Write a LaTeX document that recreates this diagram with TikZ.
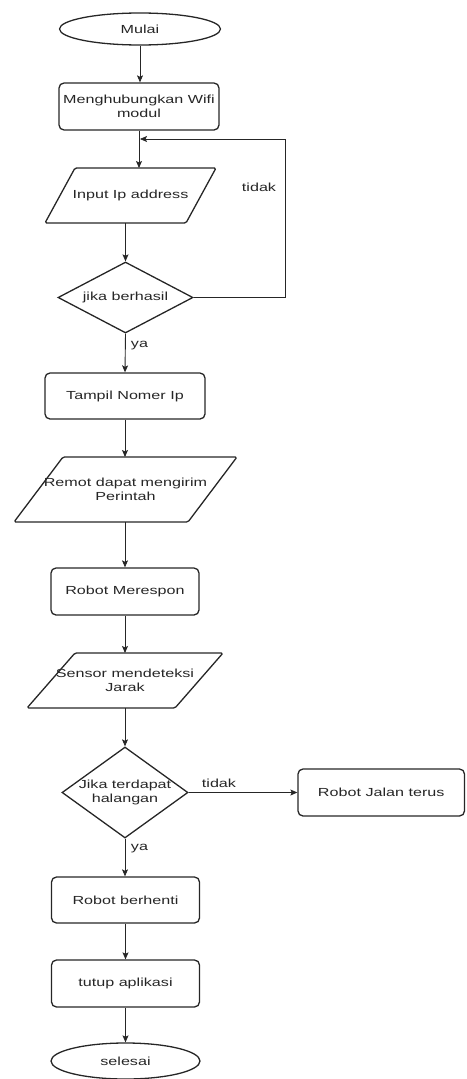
\documentclass[tikz,border=0pt]{standalone}
\usepackage{fontspec}
\setmainfont[FakeStretch=1.38]{Liberation Sans}
\usetikzlibrary{shapes.geometric,arrows.meta}
\begin{document}
\begin{tikzpicture}[x=1pt,y=-1pt,
  font=\fontsize{11.7}{14}\selectfont,
  every node/.style={text=black!85},
  box/.style={draw=black!85, rounded corners=5pt, line width=1.3pt, align=center, inner sep=0pt},
  term/.style={draw=black!85, ellipse, line width=1.3pt, inner sep=0pt},
  iobox/.style={rectangle, align=center, inner sep=0pt, outer sep=0pt},
  ioline/.style={draw=black!85, line width=1.3pt, rounded corners=1.5pt, line join=round},
  dec/.style={draw=black!85, diamond, line width=1.3pt, inner sep=0pt},
  arr/.style={draw=black!85, line width=0.9pt, -{Stealth[length=7pt,width=6pt,inset=1.5pt]}},
  lbl/.style={inner sep=0pt}
]
\useasboundingbox (0,0) rectangle (466,1079);

\node[term, minimum width=161pt, minimum height=32pt] (start) at (140,29) {Mulai};
\node[box, minimum width=160pt, minimum height=47pt] (wifi) at (139,106.5) {Menghubungkan Wifi\\modul};
\node[iobox, minimum width=171pt, minimum height=55pt] (ip) at (130.5,195.5) {Input Ip address};
\draw[ioline] ([xshift=30pt]ip.north west) -- (ip.north east) -- ([xshift=-30pt]ip.south east) -- (ip.south west) -- cycle;
\node[dec, minimum width=135pt, minimum height=71pt, label={[align=center]center:jika berhasil}] (d1) at (125.5,297.5) {};
\node[box, minimum width=160pt, minimum height=46pt] (tampil) at (125,396) {Tampil Nomer Ip};
\node[iobox, minimum width=223pt, minimum height=65pt] (remot) at (125.5,489.5) {Remot dapat mengirim\\Perintah};
\draw[ioline] ([xshift=49pt]remot.north west) -- (remot.north east) -- ([xshift=-49pt]remot.south east) -- (remot.south west) -- cycle;
\node[box, minimum width=148pt, minimum height=47pt] (resp) at (125,591.5) {Robot Merespon};
\node[iobox, minimum width=196pt, minimum height=55pt] (sensor) at (125,680.5) {Sensor mendeteksi\\Jarak};
\draw[ioline] ([xshift=48pt]sensor.north west) -- (sensor.north east) -- ([xshift=-48pt]sensor.south east) -- (sensor.south west) -- cycle;
\node[dec, minimum width=126pt, minimum height=91pt, label={[align=center]center:Jika terdapat\\halangan}] (d2) at (125,792.5) {};
\node[box, minimum width=166.5pt, minimum height=47pt] (jalan) at (381.25,792.5) {Robot Jalan terus};
\node[box, minimum width=148pt, minimum height=46pt] (stop) at (125.5,900) {Robot berhenti};
\node[box, minimum width=148pt, minimum height=47pt] (tutup) at (125.5,983.5) {tutup aplikasi};
\node[term, minimum width=149pt, minimum height=36pt] (end) at (125.5,1061) {selesai};

\coordinate (lp) at (285,139);
\coordinate (j) at (140,139);

\draw[arr] (start.south) -- (start.south |- wifi.north);
\draw[arr] (wifi.south) -- (wifi.south |- ip.north);
\draw[arr] (ip.south -| d1.north) -- (d1.north);
\draw[arr, line width=0.7pt] (d1.east) -| (lp) -- (j);
\draw[arr] (d1.south) -- (tampil.north);
\draw[arr] (tampil.south) -- (tampil.south |- remot.north);
\draw[arr] (remot.south -| resp.north) -- (resp.north);
\draw[arr] (resp.south) -- (resp.south |- sensor.north);
\draw[arr] (sensor.south -| d2.north) -- (d2.north);
\draw[arr] (d2.east) -- (jalan.west);
\draw[arr] (d2.south) -- (d2.south |- stop.north);
\draw[arr] (stop.south) -- (stop.south |- tutup.north);
\draw[arr] (tutup.south) -- (tutup.south |- end.north);

\node[lbl] (t1) at (259,187) {tidak};
\node[lbl] (y1) at (139.5,346) {ya};
\node[lbl] (t2) at (219,783) {tidak};
\node[lbl] (y2) at (139.5,849) {ya};
\end{tikzpicture}
\end{document}
